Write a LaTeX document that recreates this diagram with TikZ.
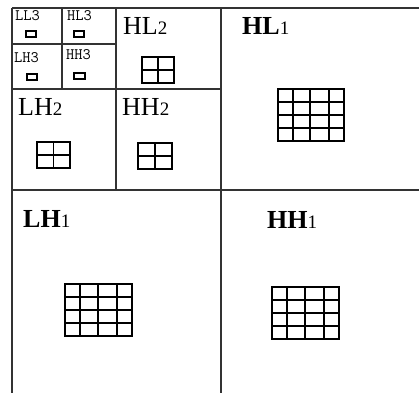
\documentclass[tikz,border=0pt]{standalone}
\usepackage{fontspec}
\setmainfont{Liberation Serif}
\begin{document}
\begin{tikzpicture}[x=1pt,y=-1pt,
  frame/.style={draw=black!80,line width=1.3pt},
  cell/.style={draw=black,line width=1.1pt},
  lvone/.style={anchor=base west,inner sep=0pt,font=\fontsize{26}{26}\selectfont\bfseries},
  lvtwo/.style={anchor=base west,inner sep=0pt,font=\fontsize{26}{26}\selectfont},
  lvthree/.style={anchor=base west,inner sep=0pt,font=\fontsize{16}{16}\selectfont\ttfamily}]
\useasboundingbox (0,0) rectangle (419,393);
% frame lines
\draw[frame] (12,8) -- (419,8);
\draw[frame] (12,8) -- (12,393);
\draw[frame] (221,8) -- (221,393);
\draw[frame] (12,190) -- (419,190);
\draw[frame] (116,8) -- (116,190);
\draw[frame] (12,89) -- (221,89);
\draw[frame] (62,8) -- (62,89);
\draw[frame] (12,44) -- (116,44);
% level 3
\node[lvthree] (ll3) at (15,21) {LL3};
\node[lvthree] (hl3) at (67,21) {HL3};
\node[lvthree] (lh3) at (14,63) {LH3};
\node[lvthree] (hh3) at (66,60) {HH3};
\draw[cell] (26,31) rectangle (36,37);
\draw[cell] (74,31) rectangle (84,37);
\draw[cell] (27,74) rectangle (37,80);
\draw[cell] (74,73) rectangle (85,79);
% level 2
\node[lvtwo] (hl2) at (123,35) {HL{\fontsize{19}{19}\selectfont 2}};
\node[lvtwo] (lh2) at (18,115) {LH{\fontsize{19}{19}\selectfont 2}};
\node[lvtwo] (hh2) at (122,115) {HH{\fontsize{19}{19}\selectfont 2}};
\foreach \xa/\ya/\xb/\yb in {142/57/174/83, 37/142/70/168, 138/143/172/169}{
  \draw[cell] (\xa,\ya) rectangle (\xb,\yb);
  \draw[cell] ({(\xa+\xb)/2},\ya) -- ({(\xa+\xb)/2},\yb);
  \draw[cell] (\xa,{(\ya+\yb)/2}) -- (\xb,{(\ya+\yb)/2});
}
% level 1
\node[lvone] (hl1) at (242,35) {HL{\fontsize{19}{19}\selectfont\mdseries 1}};
\node[lvone] (lh1) at (23,227) {LH{\fontsize{19}{19}\selectfont\mdseries 1}};
\node[lvone] (hh1) at (267,228) {HH{\fontsize{19}{19}\selectfont\mdseries 1}};
% grids
\foreach \ca/\cb/\cc/\cd/\ce/\ra/\rb/\rc/\rd/\re in {
  278/293/310/329/344/89/102/115/128/141,
  65/80/98/117/132/284/297/310/323/336,
  272/287/305/324/339/287/300/313/326/339}{
  \draw[cell] (\ca,\ra) rectangle (\ce,\re);
  \foreach \c in {\cb,\cc,\cd} \draw[cell] (\c,\ra) -- (\c,\re);
  \foreach \r in {\rb,\rc,\rd} \draw[cell] (\ca,\r) -- (\ce,\r);
}
\end{tikzpicture}
\end{document}
